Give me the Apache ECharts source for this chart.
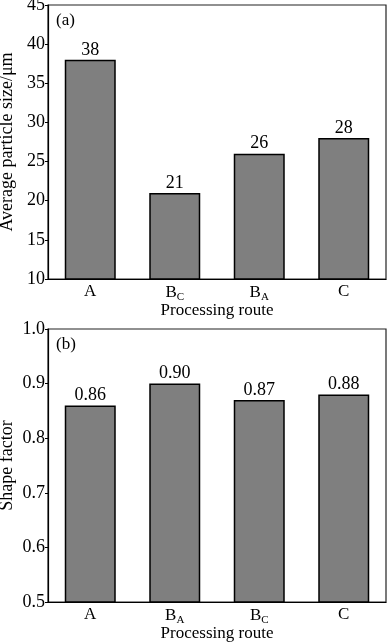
<!DOCTYPE html>
<html><head><meta charset="utf-8">
<script src="https://cdn.jsdelivr.net/npm/echarts@6/dist/echarts.min.js"></script>
<style>html,body{margin:0;padding:0;background:#fff}#c{width:389px;height:644px}</style>
</head><body><div id="c"></div>
<script>
const catsA = ['A', 'B_C', 'B_A', 'C'];
const sizeVals = [38, 21, 26, 28];
const sizeLabels = ['38', '21', '26', '28'];
const catsB = ['A', 'B_A', 'B_C', 'C'];
const shapeVals = [0.86, 0.90, 0.87, 0.88];
const shapeLabels = ['0.86', '0.90', '0.87', '0.88'];

const FONT = '"Liberation Serif","Times New Roman",serif';
const rich = {n:{fontFamily:FONT,fontSize:17,color:'#000'}, s:{fontFamily:FONT,fontSize:11,color:'#000',padding:[9,0,0,0]}};
function fmtCat(v){ const p = v.split('_'); return p.length>1 ? '{n|'+p[0]+'}{s|'+p[1]+'}' : '{n|'+v+'}'; }

const chart = echarts.init(document.getElementById('c'), null, {renderer:'canvas'});
function xAxis(idx, cats){
  return {type:'category', gridIndex:idx, data:cats,
    axisLine:{lineStyle:{color:'#000',width:1.2}}, axisTick:{show:false},
    axisLabel:{formatter:fmtCat, rich:rich, margin:4},
    name:'Processing route', nameLocation:'middle', nameGap:23, nameMoveOverlap:false,
    nameTextStyle:{fontFamily:FONT,fontSize:17,color:'#000'}};
}
function yAxis(idx, min, max, interval, name, dec){
  return {type:'value', gridIndex:idx, min:min, max:max, interval:interval,
    axisLine:{show:true,lineStyle:{color:'#000',width:1.2}},
    axisTick:{show:true,length:3,lineStyle:{color:'#000'}},
    splitLine:{show:false},
    axisLabel:{fontFamily:FONT,fontSize:18,color:'#000',margin:3,
      formatter: v => dec ? v.toFixed(1) : String(v)},
    name:name, nameLocation:'middle', nameGap:32, nameMoveOverlap:false,
    nameTextStyle:{fontFamily:FONT,fontSize:18,color:'#000'}};
}
function barSeries(idx, vals, labels){
  return {type:'bar', xAxisIndex:idx, yAxisIndex:idx, data:vals, barWidth:51,
    itemStyle:{color:'#7f7f7f', borderColor:'#000', borderWidth:1.5},
    label:{show:true, position:'top', distance:1, fontFamily:FONT, fontSize:18, color:'#000',
      formatter: p => labels[p.dataIndex]}};
}
chart.setOption({
  animation:false,
  grid:[
    {left:48, top:5, width:338, height:274, show:true, borderColor:'#222', borderWidth:1.2, outerBoundsMode:'none', containLabel:false},
    {left:48, top:329, width:338, height:273, show:true, borderColor:'#222', borderWidth:1.2, outerBoundsMode:'none', containLabel:false}
  ],
  xAxis:[xAxis(0, catsA), xAxis(1, catsB)],
  yAxis:[yAxis(0, 10, 45, 5, 'Average particle size/μm', false), yAxis(1, 0.5, 1.0, 0.1, 'Shape factor', true)],
  series:[barSeries(0, sizeVals, sizeLabels), barSeries(1, shapeVals, shapeLabels)],
  graphic:[
    {type:'text', left:56, top:12, style:{text:'(a)', fontFamily:FONT, fontSize:17, fill:'#000'}},
    {type:'text', left:56, top:336, style:{text:'(b)', fontFamily:FONT, fontSize:17, fill:'#000'}}
  ]
});
</script></body></html>
